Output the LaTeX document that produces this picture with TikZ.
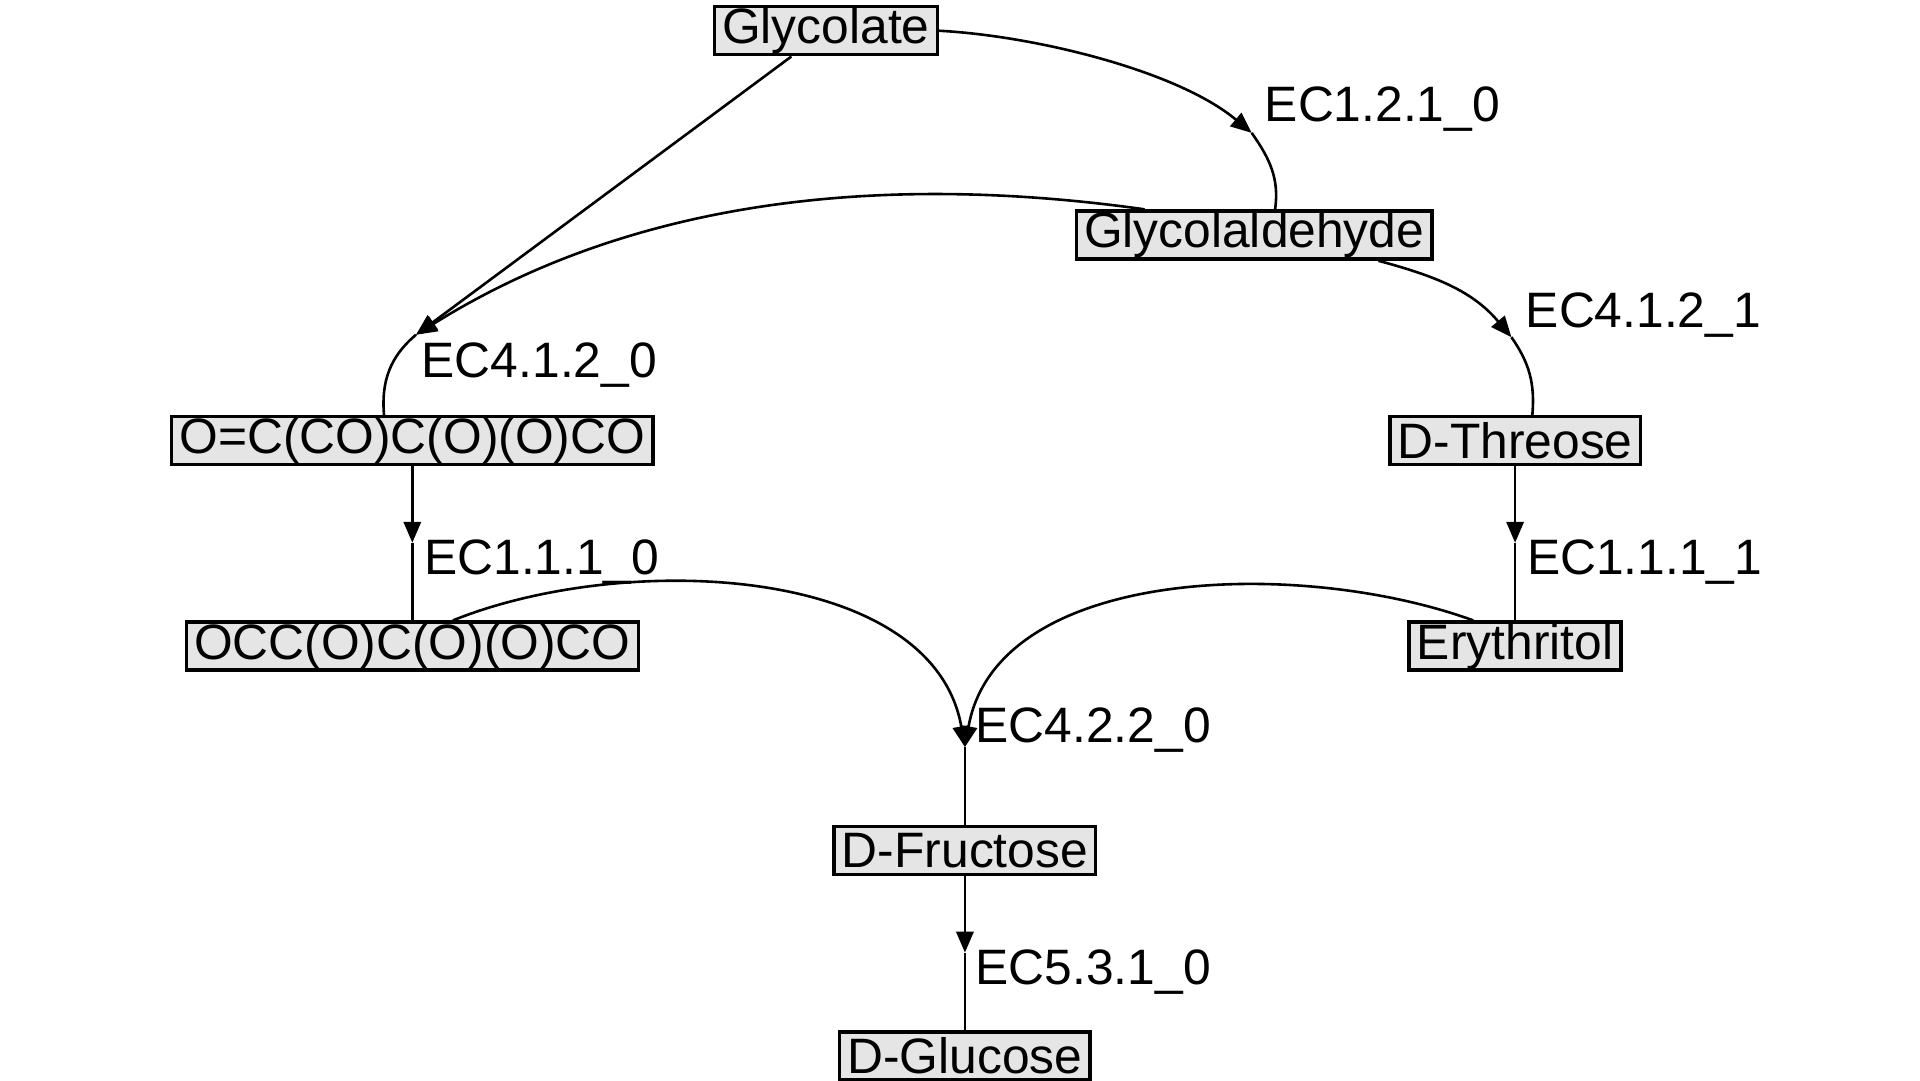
\documentclass[tikz,border=0pt]{standalone}
\usepackage{fontspec}
\setmainfont{Liberation Sans}
\usepackage{tikz}
\usetikzlibrary{arrows.meta, positioning, calc}

\begin{document}
\begin{tikzpicture}[
    font=\fontsize{11.5}{13}\selectfont,
    compound/.style={draw=black, line width=0.8pt, fill=black!10, inner xsep=1.8pt, inner ysep=0pt, minimum height=0.39cm},
    eclabel/.style={anchor=west, inner sep=0pt},
    arrow/.style={-{Triangle[length=0.17cm, width=0.14cm]}, line width=0.6pt},
    link/.style={line width=0.6pt}
]
\useasboundingbox (0,0) rectangle (15.6,8.78);

% === COMPOUNDS ===
\node[compound] (glycolate) at (6.71, 8.53) {Glycolate};
\node[compound] (galdehyde) at (10.19, 6.87) {Glycolaldehyde};
\node[compound] (oc) at (3.35, 5.20) {O=C(CO)C(O)(O)CO};
\node[compound] (threose) at (12.31, 5.20) {D-Threose};
\node[compound] (occ) at (3.35, 3.53) {OCC(O)C(O)(O)CO};
\node[compound] (erythritol) at (12.31, 3.53) {Erythritol};
\node[compound] (fructose) at (7.84, 1.87) {D-Fructose};
\node[compound] (glucose) at (7.84, 0.20) {D-Glucose};

% === REACTIONS ===
\coordinate (r1) at (10.17, 7.70);
\coordinate (r2) at (3.38, 6.06);
\coordinate (r3) at (12.28, 6.04);
\coordinate (r4) at (3.35, 4.37);
\coordinate (r5) at (12.31, 4.37);
\coordinate (r6) at (7.84, 2.71);
\coordinate (r7) at (7.84, 1.04);

\node[eclabel] (ec1) at (10.27, 7.89) {EC1.2.1\_0};
\node[eclabel] (ec2) at (3.42, 5.81) {EC4.1.2\_0};
\node[eclabel] (ec3) at (12.39, 6.22) {EC4.1.2\_1};
\node[eclabel] (ec4) at (3.44, 4.21) {EC1.1.1\_0};
\node[eclabel] (ec5) at (12.40, 4.21) {EC1.1.1\_1};
\node[eclabel] (ec6) at (7.92, 2.85) {EC4.2.2\_0};
\node[eclabel] (ec7) at (7.92, 0.88) {EC5.3.1\_0};

% === EDGES ===
\draw[arrow] (glycolate.east) to[out=-3, in=140, looseness=0.75] (r1);
\draw[link] (r1) to[out=-55, in=82] ([xshift=0.17cm]galdehyde.north);

\draw[arrow] ([xshift=-0.28cm]glycolate.south) -- (r2);
\draw[arrow] ([xshift=-0.89cm]galdehyde.north) to[out=172, in=32, looseness=0.9] (r2);
\draw[link] (r2) to[out=-140, in=95] ([xshift=-0.23cm]oc.north);

\draw[arrow] ([xshift=1.01cm]galdehyde.south) to[out=-15, in=130] (r3);
\draw[link] (r3) to[out=-55, in=85] ([xshift=0.14cm]threose.north);

\draw[arrow] (oc.south) -- (r4);
\draw[link] (r4) -- (occ.north);

\draw[arrow] (threose.south) -- (r5);
\draw[link] (r5) -- (erythritol.north);

\draw[arrow] ([xshift=0.33cm]occ.north) to[out=22, in=100, looseness=0.9] (r6);
\draw[arrow] ([xshift=-0.34cm]erythritol.north) to[out=160, in=80, looseness=0.9] (r6);
\draw[link] (r6) -- (fructose.north);

\draw[arrow] (fructose.south) -- (r7);
\draw[link] (r7) -- (glucose.north);

\end{tikzpicture}
\end{document}
